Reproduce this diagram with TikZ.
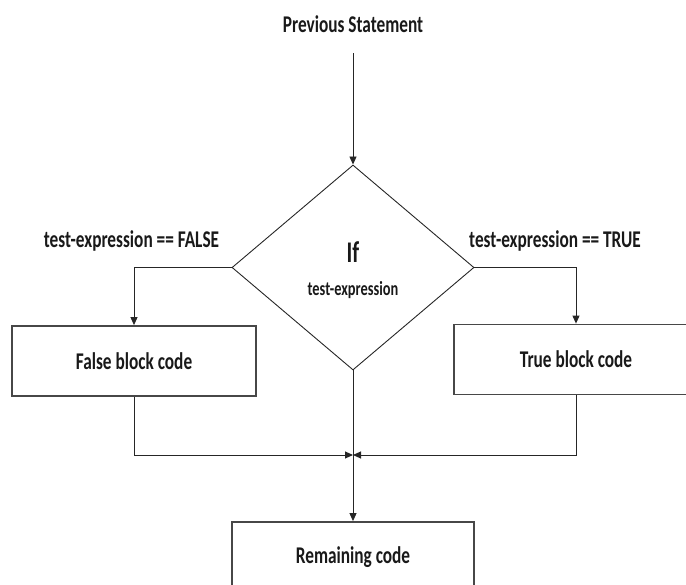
\documentclass[tikz,border=0pt]{standalone}
\usepackage{fontspec}
\setmainfont{Carlito}
\usetikzlibrary{shapes.geometric,arrows.meta}
% narrow bold lettering used throughout the chart
\newcommand\condtext[1]{\scalebox{0.72}[1]{#1}}
\begin{document}
\begin{tikzpicture}[x=1pt,y=-1pt,
  lbl/.style={inner sep=0pt, anchor=base, text=black!90,
    font=\bfseries\fontsize{24}{28}\selectfont},
  box/.style={draw=black!72, line width=1.8pt, inner sep=0pt,
    minimum width=244pt, minimum height=70pt, text=black!90,
    font=\bfseries\fontsize{24}{28}\selectfont},
  decision/.style={diamond, draw=black!85, line width=0.9pt, inner sep=0pt,
    minimum width=242pt, minimum height=205pt},
  link/.style={draw=black!85, line width=0.9pt},
  flow/.style={link, -{Triangle[length=8pt,width=7pt]}},
]
\useasboundingbox (0,0) rectangle (686,585);
\clip (0,0) rectangle (686,585);

% entry statement
\node[lbl] (prev) at (353,33) {\condtext{Previous Statement}};

% decision
\node[decision] (if) at (353,267.5) {};
\node[lbl, font=\bfseries\fontsize{30}{34}\selectfont] (iftxt) at (353,263) {\condtext{If}};
\node[lbl, font=\bfseries\fontsize{20}{24}\selectfont] (testtxt) at (353,296) {\condtext{test-expression}};

% branch labels
\node[lbl] (flbl) at (131.5,248) {\condtext{test-expression == FALSE}};
\node[lbl] (tlbl) at (555,248) {\condtext{test-expression == TRUE}};

% blocks
\node[box] (fbox) at (134,361) {\condtext{False block code}};
\node[box] (tbox) at (576,359.5) {\condtext{True block code}};
\node[box, minimum width=242pt] (rbox) at (353,557) {\condtext{Remaining code}};

\coordinate (join) at (353,455);

% connectors
\draw[flow] ([yshift=-20pt]prev.south) -- (if.north);
\draw[flow] (if.west) -| (fbox.north);
\draw[flow] (if.east) -| (tbox.north);
\draw[link] (if.south) -- (join);
\draw[flow] (fbox.south) |- (join);
\draw[flow] (tbox.south) |- (join);
\draw[flow] (join) -- (rbox.north);
\end{tikzpicture}
\end{document}
